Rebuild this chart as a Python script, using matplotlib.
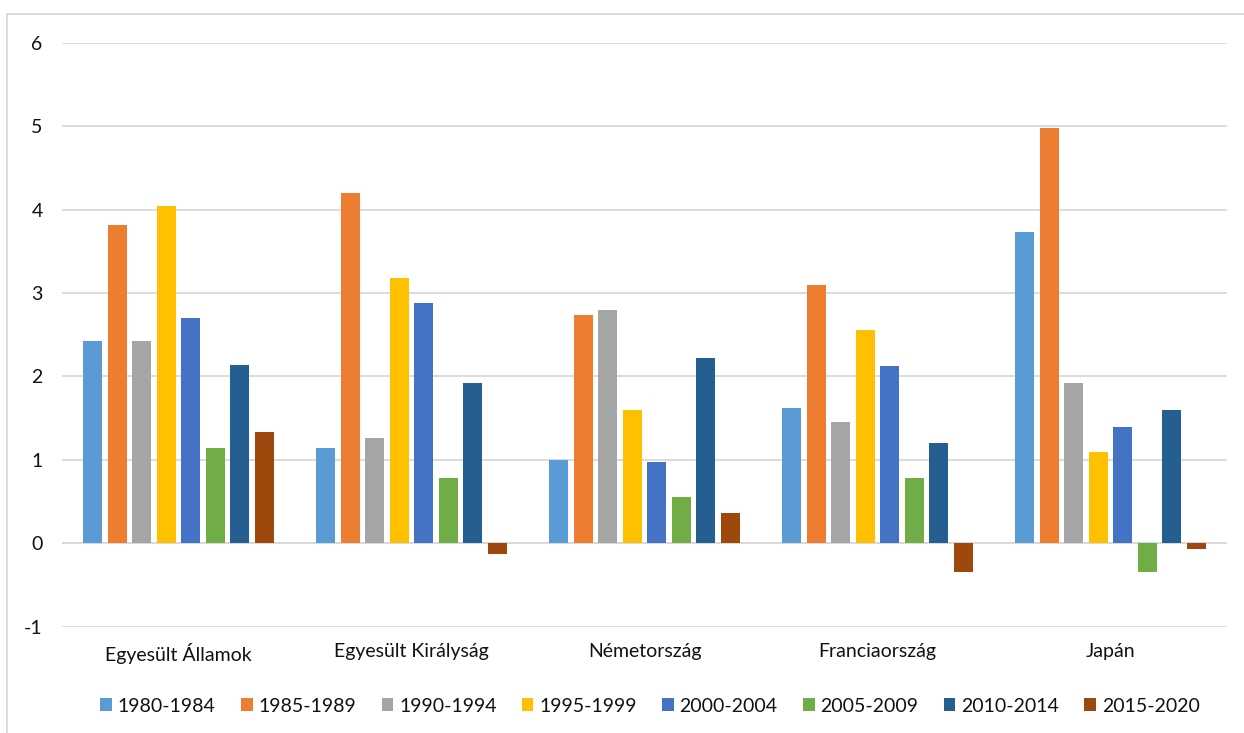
import matplotlib
matplotlib.use("Agg")
import matplotlib.pyplot as plt
import numpy as np
from matplotlib.patches import Patch
from matplotlib.lines import Line2D

plt.rcParams['font.family'] = ['Lato', 'DejaVu Sans']
plt.rcParams['axes.unicode_minus'] = False

countries = ['Egyesült Államok', 'Egyesült Királyság', 'Németország', 'Franciaország', 'Japán']
periods = ['1980-1984', '1985-1989', '1990-1994', '1995-1999',
           '2000-2004', '2005-2009', '2010-2014', '2015-2020']

# one list per period, values in country order
v1980 = [2.43, 1.14, 1.00, 1.62, 3.73]
v1985 = [3.82, 4.20, 2.74, 3.10, 4.98]
v1990 = [2.42, 1.26, 2.80, 1.46, 1.92]
v1995 = [4.04, 3.18, 1.60, 2.56, 1.10]
v2000 = [2.70, 2.88, 0.98, 2.12, 1.40]
v2005 = [1.14, 0.78, 0.56, 0.78, -0.35]
v2010 = [2.14, 1.92, 2.22, 1.20, 1.60]
v2015 = [1.33, -0.13, 0.36, -0.34, -0.07]
series = [v1980, v1985, v1990, v1995, v2000, v2005, v2010, v2015]

colors = ['#5B9BD5', '#ED7D31', '#A5A5A5', '#FFC000',
          '#4472C4', '#70AD47', '#255E91', '#9E480E']

W, H = 1244, 733
fig = plt.figure(figsize=(W / 100, H / 100), dpi=100)
ax = fig.add_axes([62 / W, 1 - 626.6 / H, (1227 - 62) / W, (626.6 - 43) / H])

x = np.arange(len(countries))
slot = 24.5 / 233
width = 19.4 / 233
for j, (vals, c) in enumerate(zip(series, colors)):
    ax.bar(x + (j - 3.5) * slot, vals, width=width, color=c, zorder=3,
           label=periods[j])

ax.set_xlim(-0.5, len(countries) - 0.5)
ax.set_ylim(-1, 6)
ax.set_yticks(range(-1, 7))
ax.yaxis.grid(True, color='#d9d9d9', linewidth=1.3, zorder=0)
ax.axhline(0, color='#d9d9d9', linewidth=1.3, zorder=2)
for s in ax.spines.values():
    s.set_visible(False)
ax.set_xticks(x)
ax.set_xticklabels(countries)
ax.tick_params(axis='x', length=0, pad=12, labelsize=14, labelcolor='#111111')
ax.tick_params(axis='y', length=0, pad=14, labelsize=14, labelcolor='#111111')

handles = [Patch(facecolor=c, edgecolor='none', label=p) for c, p in zip(colors, periods)]
fig.legend(handles=handles, loc='center', bbox_to_anchor=(650 / W, 1 - 706 / H),
           ncol=8, frameon=False, fontsize=14, handlelength=0.6, handleheight=0.6,
           handletextpad=0.3, columnspacing=1.3, labelcolor='#111111')

# chart area border (only top and left edges fall inside the image)
fig.add_artist(Line2D([7.5 / W, 1], [1 - 14 / H, 1 - 14 / H], color='#d9d9d9', lw=1.3))
fig.add_artist(Line2D([7.5 / W, 7.5 / W], [0, 1 - 14 / H], color='#d9d9d9', lw=1.3))

fig.savefig('out.png', dpi=100)
